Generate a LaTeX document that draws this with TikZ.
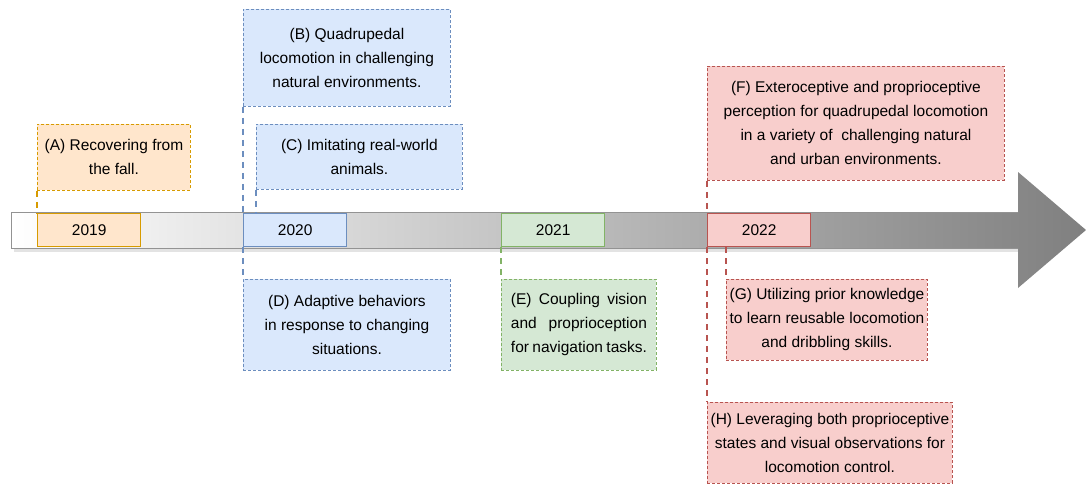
\documentclass[tikz,border=0pt]{standalone}
\usepackage{fontspec}
\setmainfont{Liberation Sans}
\definecolor{orfill}{HTML}{FFE6CC}
\definecolor{ordraw}{HTML}{D79B00}
\definecolor{blfill}{HTML}{DAE8FC}
\definecolor{bldraw}{HTML}{6C8EBF}
\definecolor{grfill}{HTML}{D5E8D4}
\definecolor{grdraw}{HTML}{82B366}
\definecolor{rdfill}{HTML}{F8CECC}
\definecolor{rddraw}{HTML}{B85450}
\begin{document}
\begin{tikzpicture}[
        x=1pt, y=-1pt,
        every node/.style={font=\fontsize{15.5}{24}\selectfont, inner sep=0pt, anchor=north west},
        year/.style={draw, line width=1.3pt, minimum width=103pt, minimum height=33pt},
        note/.style={draw, line width=0.9pt, dash pattern=on 3pt off 2pt, align=center},
        link/.style={line width=2pt, dash pattern=on 6pt off 5pt},
        orange/.style={fill=orfill, draw=ordraw},
        blue/.style={fill=blfill, draw=bldraw},
        green/.style={fill=grfill, draw=grdraw},
        red/.style={fill=rdfill, draw=rddraw}
    ]
        \useasboundingbox (0,0) rectangle (1086,484);

        % timeline arrow
        \fill[gray!22] (14,216) -- (1021,216) -- (1021,252) -- (14,252) -- cycle;
        \shade[left color=white, right color=gray] (11,212) -- (1018,212) -- (1018,172) -- (1086,230)
            -- (1018,288) -- (1018,248) -- (11,248) -- cycle;
        \draw[gray!85, line width=1pt] (1018,212) -- (11,212) -- (11,248) -- (1018,248);

        \node[year, orange] (y2019) at (37,213) {};
        \node[year, blue] (y2020) at (243,213) {};
        \node[year, green] (y2021) at (501,213) {};
        \node[year, red] (y2022) at (707,213) {};
        \node at (y2019.center) [anchor=center] {2019};
        \node at (y2020.center) [anchor=center] {2020};
        \node at (y2021.center) [anchor=center] {2021};
        \node at (y2022.center) [anchor=center] {2022};

        \node[note, orange, minimum width=153pt, minimum height=66pt] (a) at (37,124)
            {(A) Recovering from\\the fall.};
        \node[note, blue, minimum width=207pt, minimum height=97pt] (b) at (243,9)
            {(B) Quadrupedal\\locomotion in challenging\\natural environments.};
        \node[note, blue, minimum width=206pt, minimum height=65pt] (c) at (256,124)
            {(C) Imitating real-world\\animals.};
        \node[note, blue, minimum width=207pt, minimum height=91pt] (d) at (243,279)
            {(D) Adaptive behaviors\\in response to changing\\situations.};
        \node[note, green, align=justify, text width=136pt, minimum width=155pt, minimum height=91pt] (e) at (501,279)
            {(E) Coupling vision\linebreak and proprioception\linebreak for navigation tasks.};
        \node[note, red, minimum width=297pt, minimum height=114pt] (f) at (707,66)
            {(F) Exteroceptive and proprioceptive\\perception for quadrupedal locomotion\\in a variety of~ challenging natural\\and urban environments.};
        \node[note, red, minimum width=201pt, minimum height=81pt] (g) at (726,279)
            {(G) Utilizing prior knowledge\\to learn reusable locomotion\\and dribbling skills.};
        \node[note, red, minimum width=245pt, minimum height=81pt] (h) at (707,402)
            {(H) Leveraging both proprioceptive\\states and visual observations for\\locomotion control.};

        \draw[link, ordraw] (a.south west) -- (y2019.north west);
        \draw[link, bldraw] (b.south west) -- (y2020.north west);
        \draw[link, bldraw] (c.south west) -- (c.south west |- y2020.north);
        \draw[link, bldraw] (y2020.south west) -- (d.north west);
        \draw[link, grdraw] (y2021.south west) -- (e.north west);
        \draw[link, rddraw] (f.south west) -- (y2022.north west);
        \draw[link, rddraw] (y2022.south west) -- (h.north west);
        \draw[link, rddraw] (g.north west |- y2022.south) -- (g.north west);
    \end{tikzpicture}
\end{document}
